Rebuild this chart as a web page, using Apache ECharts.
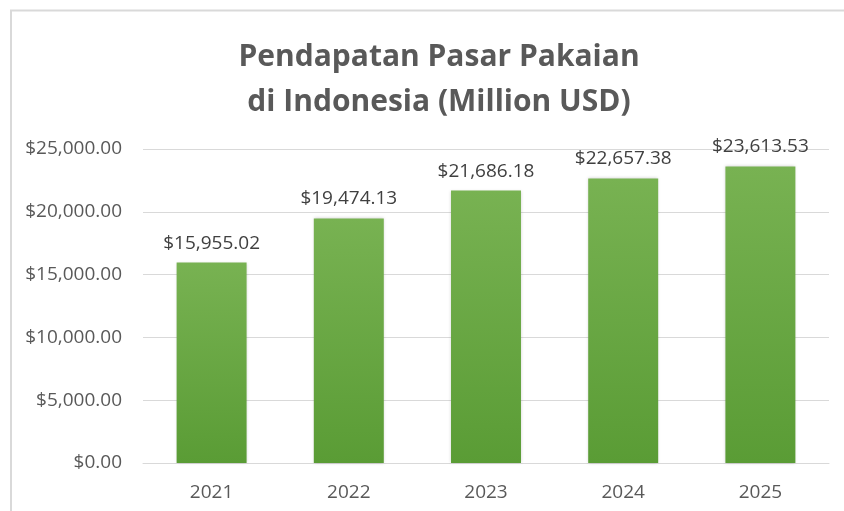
<!DOCTYPE html>
<html>
<head>
<meta charset="utf-8">
<script src="https://cdn.jsdelivr.net/npm/echarts@6/dist/echarts.min.js"></script>
<style>
  html, body { margin: 0; padding: 0; background: #fff; }
  #chart { width: 844px; height: 511px; }
</style>
</head>
<body>
<div id="chart"></div>
<script>
// Apparel market revenue in Indonesia, million USD
const years = ['2021', '2022', '2023', '2024', '2025'];
const revenue = [15955.02, 19474.13, 21686.18, 22657.38, 23613.53];
const titleLines = ['Pendapatan Pasar Pakaian', 'di Indonesia (Million USD)'];

function money(v) {
  return '$' + v.toLocaleString('en-US', { minimumFractionDigits: 2, maximumFractionDigits: 2 });
}

const chart = echarts.init(document.getElementById('chart'), null, { renderer: 'canvas' });

chart.setOption({
  animation: false,
  backgroundColor: '#ffffff',
  graphic: [{
    type: 'polyline',
    shape: { points: [[11, 520], [11, 10.5], [850, 10.5]] },
    style: { stroke: '#d9d9d9', lineWidth: 2, fill: null },
    silent: true
  }],
  title: {
    text: titleLines.join('\n'),
    left: 434,
    textAlign: 'center',
    top: 30,
    textStyle: {
      fontFamily: 'Open Sans',
      fontWeight: 'bold',
      fontSize: 30,
      lineHeight: 45,
      color: '#595959'
    }
  },
  grid: { left: 143, right: 15, top: 149, bottom: 48, containLabel: false },
  xAxis: {
    type: 'category',
    data: years,
    axisLine: { show: true, lineStyle: { color: '#d9d9d9', width: 1 } },
    axisTick: { show: false },
    axisLabel: {
      fontFamily: 'Open Sans',
      fontSize: 19,
      color: '#595959',
      margin: 20
    }
  },
  yAxis: {
    type: 'value',
    min: 0,
    max: 25000,
    interval: 5000,
    axisLine: { show: false },
    axisTick: { show: false },
    splitLine: { lineStyle: { color: '#d9d9d9', width: 1 } },
    axisLabel: {
      fontFamily: 'Open Sans',
      fontSize: 19,
      color: '#595959',
      margin: 21,
      formatter: money
    }
  },
  series: [{
    type: 'bar',
    data: revenue,
    barWidth: '51%',
    itemStyle: {
      color: new echarts.graphic.LinearGradient(0, 0, 0, 1, [
        { offset: 0, color: '#78b252' },
        { offset: 1, color: '#5a9c35' }
      ]),
      shadowColor: 'rgba(0,0,0,0.18)',
      shadowBlur: 3
    },
    label: {
      show: true,
      position: 'top',
      distance: 10,
      fontFamily: 'Open Sans',
      fontSize: 19,
      color: '#404040',
      formatter: p => money(p.value)
    }
  }]
});
</script>
</body>
</html>
